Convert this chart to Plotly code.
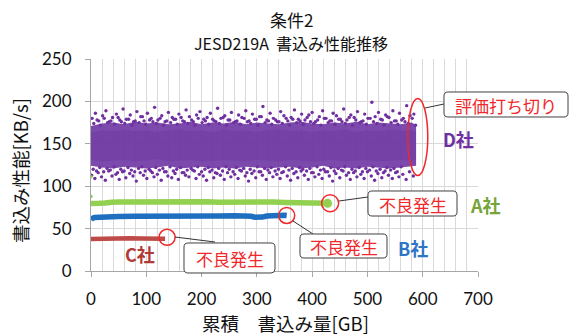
import plotly.graph_objects as go

# ---------------- data ----------------
# D社 : dense scatter cloud -> core envelope + outlying points
D_band_x = [0, 20, 40, 60, 80, 100, 120, 140, 160, 180, 200, 220, 240, 260, 280, 300,
            320, 340, 360, 380, 400, 420, 440, 460, 480, 500, 520, 540, 560, 580, 588]
D_outer_lo = [124, 122, 121, 123, 122, 121, 122, 124, 121, 122, 123, 121, 122, 121, 123, 122,
              121, 122, 123, 121, 122, 124, 121, 122, 121, 123, 122, 121, 122, 123, 124]
D_outer_hi = [171, 174, 175, 173, 176, 174, 175, 173, 174, 176, 173, 175, 174, 176, 173, 175,
              174, 173, 175, 176, 174, 173, 175, 174, 176, 173, 175, 174, 173, 175, 172]
D_inner_lo = [131, 129, 130, 131, 129, 130, 132, 129, 130, 131, 129, 130, 131, 130, 129, 131,
              130, 129, 131, 130, 129, 130, 131, 129, 130, 131, 129, 130, 131, 130, 131]
D_inner_hi = [163, 166, 165, 167, 165, 166, 164, 166, 167, 165, 166, 164, 167, 165, 166, 164,
              166, 167, 165, 166, 164, 166, 165, 167, 164, 166, 165, 167, 165, 166, 164]

D_hi_x = [2, 8, 14, 21, 27, 33, 39, 46, 52, 58, 64, 71, 77, 83, 90, 96, 102, 109, 115, 121,
          128, 134, 140, 147, 153, 159, 166, 172, 178, 185, 191, 197, 204, 210, 216, 223, 229,
          235, 242, 248, 254, 261, 267, 273, 280, 286, 292, 299, 305, 311, 318, 324, 330, 337,
          343, 349, 356, 362, 368, 375, 381, 387, 394, 400, 406, 413, 419, 425, 432, 438, 444,
          451, 457, 463, 470, 476, 482, 489, 495, 501, 508, 514, 520, 527, 533, 539, 546, 552,
          558, 565, 571, 577, 584]
D_hi_y = [180, 186, 177, 183, 189, 176, 181, 185, 178, 191, 179, 184, 176, 188, 182, 177, 186,
          180, 193, 178, 183, 176, 187, 181, 179, 185, 177, 190, 182, 176, 184, 188, 179, 181,
          186, 177, 192, 180, 183, 178, 187, 176, 184, 181, 189, 177, 185, 179, 182, 194, 178,
          186, 180, 176, 188, 183, 177, 181, 190, 179, 185, 178, 184, 187, 176, 182, 189, 180,
          177, 186, 183, 179, 191, 178, 184, 181, 188, 176, 185, 180, 199, 182, 187, 178, 184,
          181, 189, 177, 186, 180, 195, 183, 185]
D_hi2_x = [5, 11, 17, 24, 30, 36, 43, 49, 55, 61, 68, 74, 80, 87, 93, 99, 106, 112, 118, 125,
           131, 137, 144, 150, 156, 163, 169, 175, 182, 188, 194, 201, 207, 213, 220, 226, 232,
           239, 245, 251, 258, 264, 270, 277, 283, 289, 296, 302, 308, 315, 321, 327, 334, 340,
           346, 353, 359, 365, 372, 378, 384, 391, 397, 403, 410, 416, 422, 429, 435, 441, 448,
           454, 460, 467, 473, 479, 486, 492, 498, 505, 511, 517, 524, 530, 536, 543, 549, 555,
           562, 568, 574, 581, 587]
D_hi2_y = [174, 178, 172, 180, 175, 177, 173, 181, 176, 174, 179, 172, 177, 175, 182, 173, 178,
           176, 174, 180, 172, 177, 175, 179, 173, 181, 176, 174, 178, 172, 180, 175, 177, 173,
           179, 176, 174, 181, 172, 178, 175, 177, 173, 180, 176, 174, 179, 172, 182, 175, 177,
           173, 178, 176, 174, 180, 172, 179, 175, 177, 173, 181, 176, 174, 178, 172, 180, 175,
           177, 173, 179, 176, 174, 181, 172, 178, 175, 177, 173, 180, 176, 174, 179, 172, 182,
           175, 177, 173, 178, 176, 174, 180, 172]
D_lo_x = [1, 7, 13, 19, 26, 32, 38, 45, 51, 57, 63, 70, 76, 82, 89, 95, 101, 108, 114, 120,
          127, 133, 139, 146, 152, 158, 165, 171, 177, 184, 190, 196, 203, 209, 215, 222, 228,
          234, 241, 247, 253, 260, 266, 272, 279, 285, 291, 298, 304, 310, 317, 323, 329, 336,
          342, 348, 355, 361, 367, 374, 380, 386, 393, 399, 405, 412, 418, 424, 431, 437, 443,
          450, 456, 462, 469, 475, 481, 488, 494, 500, 507, 513, 519, 526, 532, 538, 545, 551,
          557, 564, 570, 576, 583]
D_lo_y = [113, 109, 116, 111, 107, 118, 112, 114, 108, 117, 110, 115, 112, 106, 116, 113, 109,
          118, 111, 114, 107, 117, 112, 110, 115, 108, 116, 113, 111, 119, 109, 114, 112, 107,
          117, 110, 115, 113, 108, 116, 111, 114, 109, 118, 112, 106, 115, 110, 117, 113, 108,
          116, 111, 114, 109, 117, 112, 107, 115, 110, 118, 113, 108, 116, 111, 114, 109, 117,
          112, 106, 115, 110, 118, 113, 108, 116, 111, 114, 109, 117, 112, 107, 115, 110, 118,
          113, 109, 116, 111, 114, 108, 117, 112]
D_lo2_x = [4, 10, 16, 23, 29, 35, 42, 48, 54, 60, 67, 73, 79, 86, 92, 98, 105, 111, 117, 124,
           130, 136, 143, 149, 155, 162, 168, 174, 181, 187, 193, 200, 206, 212, 219, 225, 231,
           238, 244, 250, 257, 263, 269, 276, 282, 288, 295, 301, 307, 314, 320, 326, 333, 339,
           345, 352, 358, 364, 371, 377, 383, 390, 396, 402, 409, 415, 421, 428, 434, 440, 447,
           453, 459, 466, 472, 478, 485, 491, 497, 504, 510, 516, 523, 529, 535, 542, 548, 554,
           561, 567, 573, 580, 586]
D_lo2_y = [120, 118, 122, 117, 121, 119, 123, 116, 120, 118, 122, 119, 117, 121, 123, 118, 120,
           116, 122, 119, 121, 117, 123, 118, 120, 122, 116, 119, 121, 118, 123, 117, 120, 122,
           119, 116, 121, 118, 123, 120, 117, 122, 119, 121, 116, 120, 118, 123, 117, 121, 119,
           122, 118, 120, 116, 123, 119, 121, 117, 122, 120, 118, 121, 116, 123, 119, 120, 117,
           122, 118, 121, 119, 123, 116, 120, 118, 122, 117, 121, 119, 123, 118, 120, 116, 122,
           119, 121, 117, 123]

# A社
A_x = [0, 5, 15, 25, 32, 38, 50, 70, 90, 110, 130, 150, 170, 190, 210, 230, 250, 270, 290,
       310, 330, 350, 370, 390, 405, 415, 422, 428]
A_y = [79.5, 80, 79.8, 80.2, 80, 81, 81.3, 81.5, 81.2, 81.6, 81.4, 81.7, 81.3, 81.5, 81.6,
       81.2, 81.5, 81.3, 81.4, 81.1, 81.3, 80.9, 81, 80.6, 80.5, 80.2, 80, 79.8]
A_extra_x = [0, 0]
A_extra_y = [88, 111]
# B社
B_x = [0, 2, 6, 15, 30, 50, 80, 110, 140, 170, 200, 230, 260, 280, 290, 296, 300, 305, 310,
       318, 328, 340, 350, 354]
B_y = [60, 62, 63, 63.5, 64, 64.2, 64.5, 64.3, 64.6, 64.8, 65, 64.8, 65.2, 65.3, 64.5, 63.5,
       63.2, 64, 63.6, 64.8, 65.5, 65.6, 65.8, 65.5]
# C社
C_x = [0, 15, 30, 50, 70, 90, 110, 125, 134]
C_y = [37.8, 38.2, 38, 38.5, 38.6, 38.4, 38.7, 38.3, 38]

x_ticks = [0, 100, 200, 300, 400, 500, 600, 700]
y_ticks = [0, 50, 100, 150, 200, 250]

title_main = "条件2"
title_sub = "JESD219A  書込み性能推移"
x_title = "累積　書込み量[GB]"
y_title = "書込み性能[KB/s]"

# ---------------- styling ----------------
PURPLE = "#7030A0"
GREEN = "#92D050"
BLUE = "#1F6FC0"
DRED = "#BE4B48"
RED = "#F0282B"
CJK = "Noto Sans CJK JP"
NUM = "Lato, Noto Sans CJK JP"

W, H = 581, 335
PL, PR, PT, PB = 91, 478, 59, 271


def pp(px, py):
    return (px - PL) / (PR - PL), (PB - py) / (PB - PT)


fig = go.Figure()

# D cloud
fig.add_trace(go.Scatter(x=D_band_x, y=D_outer_lo, mode="lines", line=dict(width=0),
                         hoverinfo="skip", showlegend=False))
fig.add_trace(go.Scatter(x=D_band_x, y=D_outer_hi, mode="lines", line=dict(width=0),
                         fill="tonexty", fillcolor="rgba(110,54,163,0.9)",
                         hoverinfo="skip", showlegend=False))
fig.add_trace(go.Scatter(x=D_band_x, y=D_inner_lo, mode="lines", line=dict(width=0),
                         hoverinfo="skip", showlegend=False))
fig.add_trace(go.Scatter(x=D_band_x, y=D_inner_hi, mode="lines", line=dict(width=0),
                         fill="tonexty", fillcolor="rgba(104,48,156,0.3)",
                         hoverinfo="skip", showlegend=False))
for xs, ys in [(D_hi_x, D_hi_y), (D_hi2_x, D_hi2_y), (D_lo_x, D_lo_y), (D_lo2_x, D_lo2_y)]:
    fig.add_trace(go.Scatter(x=xs, y=ys, mode="markers",
                             marker=dict(color=PURPLE, size=3.4, line=dict(width=0)),
                             showlegend=False))

# A, B, C
fig.add_trace(go.Scatter(x=A_x, y=A_y, mode="lines", line=dict(color=GREEN, width=5.5),
                         showlegend=False))
fig.add_trace(go.Scatter(x=[A_x[-1]], y=[A_y[-1]], mode="markers",
                         marker=dict(color=GREEN, size=9), showlegend=False))
fig.add_trace(go.Scatter(x=A_extra_x, y=A_extra_y, mode="markers",
                         marker=dict(color=GREEN, size=3.5), showlegend=False))
fig.add_trace(go.Scatter(x=B_x, y=B_y, mode="lines", line=dict(color=BLUE, width=5.5),
                         showlegend=False))
fig.add_trace(go.Scatter(x=C_x, y=C_y, mode="lines", line=dict(color=DRED, width=4.5),
                         showlegend=False))

shapes = []


def circ(xa, ya, dx, dy, rx, ry):
    return dict(type="circle", xref="x", yref="y", xsizemode="pixel", ysizemode="pixel",
                xanchor=xa, yanchor=ya, x0=dx - rx, x1=dx + rx, y0=dy - ry, y1=dy + ry,
                line=dict(color=RED, width=1.5), layer="above")


shapes.append(circ(A_x[-1], A_y[-1], 2.5, 0, 8.5, 8.5))
shapes.append(circ(B_x[-1], B_y[-1], 0, 0, 8, 8))
shapes.append(circ(C_x[-1], C_y[-1], 2, 1.5, 8, 8))
shapes.append(circ(D_band_x[-1], 158, 1.7, 0, 10, 38.5))

# connectors
for (x0, y0, x1, y1) in [(425, 108, 444, 104), (339, 201, 368, 197),
                         (293, 221, 313, 234), (175, 237, 215, 242)]:
    a, b = pp(x0, y0)
    c, d = pp(x1, y1)
    shapes.append(dict(type="line", xref="paper", yref="paper", x0=a, y0=b, x1=c, y1=d,
                       line=dict(color="#333333", width=1), layer="above"))


def rrect(x0, y0, x1, y1, r=4):
    def P(px, py):
        a, b = pp(px, py)
        return f"{a:.5f},{b:.5f}"
    path = (f"M {P(x0 + r, y0)} L {P(x1 - r, y0)} Q {P(x1, y0)} {P(x1, y0 + r)} "
            f"L {P(x1, y1 - r)} Q {P(x1, y1)} {P(x1 - r, y1)} "
            f"L {P(x0 + r, y1)} Q {P(x0, y1)} {P(x0, y1 - r)} "
            f"L {P(x0, y0 + r)} Q {P(x0, y0)} {P(x0 + r, y0)} Z")
    return dict(type="path", xref="paper", yref="paper", path=path, fillcolor="white",
                line=dict(color="#404040", width=1), layer="above")


boxes = [(444, 92, 568, 117, "評価打ち切り"), (368, 191, 457, 216, "不良発生"),
         (300, 234, 387, 258, "不良発生"), (184, 243, 275, 273, "不良発生")]
annotations = []
for (x0, y0, x1, y1, t) in boxes:
    shapes.append(rrect(x0, y0, x1, y1))
    cx, cy = pp((x0 + x1) / 2, (y0 + y1) / 2 + 0.5)
    annotations.append(dict(x=cx, y=cy, xref="paper", yref="paper", text=t, showarrow=False,
                            font=dict(family=CJK, size=17, color=RED),
                            xanchor="center", yanchor="middle"))

for (px, py, t, col) in [(458, 139, "D社", PURPLE), (485, 205, "A社", "#76A33A"),
                         (412.5, 248, "B社", "#2E75C5"), (140, 254, "C社", "#B03A36")]:
    cx, cy = pp(px, py)
    annotations.append(dict(x=cx, y=cy, xref="paper", yref="paper", text=f"<b>{t}</b>",
                            showarrow=False, font=dict(family=CJK, size=18, color=col),
                            xanchor="center", yanchor="middle"))

# titles
for (px, py, t, s) in [(291, 19, title_main, 17), (291, 43, title_sub, 16)]:
    cx, cy = pp(px, py)
    annotations.append(dict(x=cx, y=cy, xref="paper", yref="paper", text=t, showarrow=False,
                            font=dict(family=CJK, size=s, color="#111111"),
                            xanchor="center", yanchor="middle"))
cx, cy = pp(285, 323)
annotations.append(dict(x=cx, y=cy, xref="paper", yref="paper", text=x_title, showarrow=False,
                        font=dict(family=CJK, size=18.5, color="#111111"),
                        xanchor="center", yanchor="middle"))
cx, cy = pp(20, 171)
annotations.append(dict(x=cx, y=cy, xref="paper", yref="paper", text=y_title, showarrow=False,
                        textangle=-90, font=dict(family=CJK, size=18.5, color="#111111"),
                        xanchor="center", yanchor="middle"))

GRID = "#D9D9D9"
fig.update_layout(
    width=W, height=H,
    margin=dict(l=PL, r=W - PR, t=PT, b=H - PB, pad=0),
    paper_bgcolor="white", plot_bgcolor="white",
    shapes=shapes, annotations=annotations,
    xaxis=dict(range=[0, 700], tickvals=x_ticks, showgrid=True, gridcolor=GRID, gridwidth=1,
               minor=dict(dtick=20, tick0=0, showgrid=True, gridcolor=GRID, gridwidth=1),
               zeroline=False, showline=True, linecolor="#A6A6A6", linewidth=1,
               ticks="outside", ticklen=5, tickcolor="#A6A6A6",
               tickfont=dict(family=NUM, size=17, color="#111111"), ticklabelstandoff=8),
    yaxis=dict(range=[0, 250], tickvals=y_ticks, showgrid=True, gridcolor=GRID, gridwidth=1,
               zeroline=False, showline=True, linecolor="#A6A6A6", linewidth=1,
               ticks="outside", ticklen=5, tickcolor="#A6A6A6",
               tickfont=dict(family=NUM, size=17, color="#111111"), ticklabelstandoff=10),
)

fig.write_html("out.html", config={"displayModeBar": False},
               post_script="document.body.style.margin='0';document.body.style.padding='0';")
